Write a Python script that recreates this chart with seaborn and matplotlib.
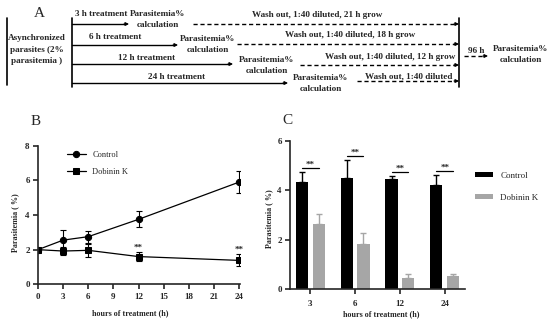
import numpy as np
import pandas as pd
import matplotlib
matplotlib.use("Agg")
import matplotlib.pyplot as plt
from matplotlib.container import BarContainer
import seaborn as sns

sns.set_style("ticks")
plt.rcParams['font.family'] = ['Liberation Serif', 'DejaVu Serif']
plt.rcParams['axes.linewidth'] = 1.2

# ---- data panel B (time course) ----
hours_b = [0, 3, 6, 12, 24]
control_b = [2.0, 2.55, 2.75, 3.75, 5.9]
control_b_err = [0.05, 0.6, 0.35, 0.47, 0.65]
dobinin_b = [2.0, 1.92, 1.96, 1.6, 1.38]
dobinin_b_err = [0.05, 0.25, 0.36, 0.27, 0.35]
stars_b_hours = [12, 24]

# ---- data panel C (bars) ----
hours_c = ['3', '6', '12', '24']
control_c = [4.32, 4.48, 4.44, 4.23]
control_c_err = [0.43, 0.76, 0.14, 0.4]
dobinin_c = [2.62, 1.83, 0.46, 0.55]
dobinin_c_err = [0.43, 0.45, 0.17, 0.05]

# ---- panel A scheme ----
treat_hours = [3, 6, 12, 24]
wash_labels = ['Wash out, 1:40 diluted, 21 h grow', 'Wash out, 1:40 diluted, 18 h grow',
               'Wash out, 1:40 diluted, 12 h grow', 'Wash out, 1:40 diluted']

W, H = 550, 322
fig = plt.figure(figsize=(W / 100, H / 100), dpi=100)


def box(x0, y0, x1, y1):
    # pixel box (top-left origin) -> figure fraction rect
    return [x0 / W, 1 - y1 / H, (x1 - x0) / W, (y1 - y0) / H]


def ftext(x, y, s, **kw):
    fig.text(x / W, 1 - y / H, s, **kw)


# ================= Panel A =================
ax_a = fig.add_axes([0, 0, 1, 1])
ax_a.set_xlim(0, W)
ax_a.set_ylim(H, 0)
ax_a.axis('off')
ax_a.patch.set_visible(False)

fs_a = 6.6
bold = dict(fontsize=fs_a, fontweight='bold', ha='center', va='center')
ax_a.text(39, 13, 'A', fontsize=11, ha='center', va='center')
ax_a.plot([7, 7], [18, 85], color='black', lw=1.2)
ax_a.plot([72, 72], [18, 87], color='black', lw=1.2)
ax_a.plot([459, 459], [18, 87], color='black', lw=1.2)
ax_a.text(37, 38, 'Asynchronized', **bold)
ax_a.text(37, 50, 'parasites (2%', **bold)
ax_a.text(37, 61, 'parasitemia )', **bold)

row_y = [24, 45, 64, 83]
arrow_end = [129, 178, 233, 288]
treat_lbl_y = [14, 37, 58, 77]
treat_lbl_x = [101, 115, 147, 177]
calc_x = [158, 208, 267, 321]
calc_y = [14, 39, 60, 78]
dash_start = [193, 237, 300, 357]
dash_y = [24, 44, 65, 81]
wash_x = [317, 350, 390, 409]
wash_y = [15, 35, 57, 76]


def head(ax, x, y):
    ax.annotate('', xy=(x, y), xytext=(x - 5, y),
                arrowprops=dict(arrowstyle='-|>', color='black', lw=0.8,
                                mutation_scale=5, shrinkA=0, shrinkB=0))


for i, h in enumerate(treat_hours):
    ax_a.plot([72, arrow_end[i] - 3], [row_y[i], row_y[i]], color='black', lw=1)
    head(ax_a, arrow_end[i], row_y[i])
    ax_a.text(treat_lbl_x[i], treat_lbl_y[i], f'{h} h treatment', **bold)
    ax_a.text(calc_x[i], calc_y[i], 'Parasitemia%', **bold)
    ax_a.text(calc_x[i], calc_y[i] + 11, 'calculation', **bold)
    ax_a.plot([dash_start[i], 456], [dash_y[i], dash_y[i]], color='black', lw=1, dashes=(3, 2))
    head(ax_a, 459, dash_y[i])
    ax_a.text(wash_x[i], wash_y[i], wash_labels[i], **bold)

ax_a.plot([464, 485], [56, 56], color='black', lw=1, dashes=(3, 2))
head(ax_a, 488, 56)
ax_a.text(476, 51, '96 h', **bold)
ax_a.text(521, 49, 'Parasitemia%', **bold)
ax_a.text(521, 60, 'calculation', **bold)

# ================= Panel B =================
tick_fs = 6.5
lab_fs = 5.8
ax_b = fig.add_axes(box(38, 145.7, 240, 284.3))
df_b = pd.DataFrame({
    'hours': hours_b * 2,
    'value': control_b + dobinin_b,
    'group': ['Control'] * len(hours_b) + ['Dobinin K'] * len(hours_b),
})
sns.lineplot(data=df_b, x='hours', y='value', hue='group', style='group',
             markers={'Control': 'o', 'Dobinin K': 's'}, dashes=False,
             palette=['black', 'black'], markersize=4.5, linewidth=0.9,
             markeredgecolor='black', ax=ax_b, legend=True)
ax_b.errorbar(hours_b, control_b, yerr=control_b_err, fmt='none', ecolor='black',
              elinewidth=0.8, capsize=2.5, capthick=0.8)
ax_b.errorbar(hours_b, dobinin_b, yerr=dobinin_b_err, fmt='none', ecolor='black',
              elinewidth=0.8, capsize=2.5, capthick=0.8)
for h in stars_b_hours:
    i = hours_b.index(h)
    ax_b.text(h, dobinin_b[i] + dobinin_b_err[i] + 0.02, '**', ha='center', va='bottom',
              fontsize=6.5, fontweight='bold')
ax_b.set_xlim(0, 24.1)
ax_b.set_ylim(0, 8)
ax_b.set_xticks(range(0, 25, 3))
ax_b.set_yticks([0, 2, 4, 6, 8])
ax_b.set_xlabel('')
ax_b.set_ylabel('')
ax_b.tick_params(labelsize=tick_fs, length=3.5, width=1.2, pad=2.5)
for lab in ax_b.get_xticklabels() + ax_b.get_yticklabels():
    lab.set_fontweight('bold')
sns.despine(ax=ax_b)
leg = ax_b.legend(frameon=False, loc='upper left', bbox_to_anchor=(0.12, 1.0),
                  fontsize=6, handlelength=2.2, labelspacing=1.1, borderaxespad=0.2)
ftext(36, 122, 'B', fontsize=11, ha='center', va='center')
ftext(15, 223, 'Parasitemia ( %)', fontsize=lab_fs, fontweight='bold', rotation=90,
      ha='center', va='center')
ftext(130, 313, 'hours of treatment (h)', fontsize=lab_fs, fontweight='bold',
      ha='center', va='center')

# ================= Panel C =================
ax_c = fig.add_axes(box(290, 140.7, 465, 289.3))
df_c = pd.DataFrame({
    'hours': hours_c * 2,
    'value': control_c + dobinin_c,
    'group': ['Control'] * len(hours_c) + ['Dobinin K'] * len(hours_c),
})
grey = '#a6a6a6'
sns.barplot(data=df_c, x='hours', y='value', hue='group', order=hours_c,
            palette=['black', grey], width=0.75, gap=0.28, errorbar=None,
            linewidth=0, ax=ax_c, legend=True)
errs = [control_c_err, dobinin_c_err]
vals = [control_c, dobinin_c]
colors = ['black', grey]
bar_sets = [c for c in ax_c.containers if isinstance(c, BarContainer)]
centers = []
for k, cont in enumerate(bar_sets):
    xs = [b.get_x() + b.get_width() / 2 for b in cont]
    centers.append(xs)
    ax_c.errorbar(xs, vals[k], yerr=[np.zeros(len(xs)), errs[k]], fmt='none',
                  ecolor=colors[k], elinewidth=1.0, capsize=2.5, capthick=1.0)
for i in range(len(hours_c)):
    top = max(control_c[i] + control_c_err[i], dobinin_c[i] + dobinin_c_err[i])
    y = top + 0.15
    ax_c.plot([centers[0][i], centers[1][i]], [y, y], color='black', lw=0.9)
    ax_c.text((centers[0][i] + centers[1][i]) / 2, y - 0.02, '**', ha='center',
              va='bottom', fontsize=6.5, fontweight='bold')
ax_c.set_xlim(-0.45, 3.45)
ax_c.set_ylim(0, 6)
ax_c.set_yticks([0, 2, 4, 6])
ax_c.set_xlabel('')
ax_c.set_ylabel('')
ax_c.tick_params(labelsize=tick_fs, length=3.5, width=1.2, pad=2.5)
ax_c.tick_params(axis='x', pad=4.5)
for lab in ax_c.get_xticklabels() + ax_c.get_yticklabels():
    lab.set_fontweight('bold')
sns.despine(ax=ax_c)
handles, labels = ax_c.get_legend_handles_labels()
ax_c.get_legend().remove()
fig.legend(handles, labels, loc='upper left', bbox_to_anchor=(467 / W, 1 - 164 / H),
           frameon=False, fontsize=6.5, handlelength=2.0, handleheight=0.45,
           labelspacing=1.5, handletextpad=0.8)
ftext(287, 121, 'C', fontsize=11, ha='center', va='center')
ftext(269, 219, 'Parasitemia ( %)', fontsize=lab_fs, fontweight='bold', rotation=90,
      ha='center', va='center')
ftext(381, 314, 'hours of treatment (h)', fontsize=lab_fs, fontweight='bold',
      ha='center', va='center')

fig.savefig('out.png', dpi=100)
